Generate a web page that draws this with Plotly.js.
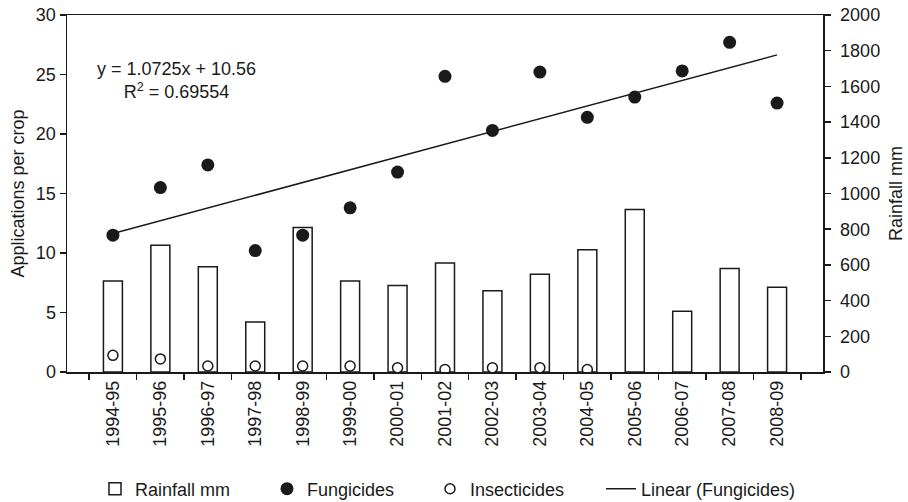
<!DOCTYPE html>
<html>
<head>
<meta charset="utf-8">
<script src="https://cdn.plot.ly/plotly-3.0.1.min.js"></script>
<style>html,body{margin:0;padding:0;background:#fff;}#chart{width:908px;height:502px;}</style>
</head>
<body>
<div id="chart"></div>
<script>
const seasons = ["1994-95","1995-96","1996-97","1997-98","1998-99","1999-00","2000-01","2001-02","2002-03","2003-04","2004-05","2005-06","2006-07","2007-08","2008-09"];
const rainfallMm = [510, 710, 590, 280, 810, 510, 485, 610, 455, 548, 685, 910, 340, 580, 475];
const fungicides = [11.5, 15.5, 17.4, 10.2, 11.5, 13.8, 16.8, 24.85, 20.3, 25.2, 21.4, 23.1, 25.3, 27.7, 22.6];
const insecticides = [1.4, 1.1, 0.5, 0.5, 0.5, 0.5, 0.35, 0.2, 0.35, 0.35, 0.2, null, null, null, null];
const trendSlope = 1.0725;
const trendIntercept = 10.56;
const trendR2 = "0.69554";

const trendX = [seasons[0], seasons[seasons.length - 1]];
const trendY = [trendSlope * 1 + trendIntercept, trendSlope * seasons.length + trendIntercept];

const FONT = "Liberation Sans, Arial, Helvetica, sans-serif";
const INK = "#1a1a1a";

const traces = [
  {
    type: "bar", name: "Rainfall mm", x: seasons, y: rainfallMm, yaxis: "y", legend: "legend",
    width: 0.4, marker: {color: "#ffffff", line: {color: INK, width: 1.5}}
  },
  {
    type: "scatter", mode: "markers", name: "Fungicides", x: seasons, y: fungicides, yaxis: "y2", legend: "legend2",
    marker: {size: 13, color: INK}
  },
  {
    type: "scatter", mode: "markers", name: "Insecticides", x: seasons, y: insecticides, yaxis: "y2", legend: "legend3",
    marker: {size: 10, color: "#ffffff", line: {color: INK, width: 1.5}}
  },
  {
    type: "scatter", mode: "lines", name: "Linear (Fungicides)", x: trendX, y: trendY, yaxis: "y2", legend: "legend4",
    line: {color: INK, width: 1.5}
  }
];

function leg(xpx) {
  return {
    orientation: "h", xref: "container", yref: "container",
    x: xpx / 908, xanchor: "left", y: 13 / 502, yanchor: "middle",
    font: {family: FONT, size: 18, color: INK},
    bgcolor: "rgba(0,0,0,0)", borderwidth: 0
  };
}

const layout = {
  width: 908, height: 502,
  margin: {l: 67, r: 85, t: 15, b: 130, pad: 0},
  paper_bgcolor: "#ffffff", plot_bgcolor: "#ffffff",
  font: {family: FONT, size: 18, color: INK},
  showlegend: true,
  legend: leg(95), legend2: leg(267), legend3: leg(430), legend4: leg(601),
  xaxis: {
    type: "category", categoryorder: "array", categoryarray: seasons,
    showline: true, linecolor: INK, linewidth: 1.5, mirror: true,
    ticks: "outside", tickson: "boundaries", ticklen: 6, tickwidth: 1.5, tickcolor: INK,
    tickangle: -90, tickfont: {family: FONT, size: 18, color: INK},
    showgrid: false, zeroline: false, automargin: false
  },
  yaxis: {
    side: "right", range: [0, 2000], dtick: 200, tick0: 0,
    showline: true, linecolor: INK, linewidth: 1.5,
    ticks: "outside", ticklen: 6, tickwidth: 1.5, tickcolor: INK, ticklabelstandoff: 6,
    tickfont: {family: FONT, size: 18, color: INK},
    showgrid: false, zeroline: false, automargin: false,
    title: {text: "Rainfall mm", font: {family: FONT, size: 18, color: INK}, standoff: 10}
  },
  yaxis2: {
    overlaying: "y", side: "left", range: [0, 30], dtick: 5, tick0: 0,
    showline: true, linecolor: INK, linewidth: 1.5,
    ticks: "outside", ticklen: 6, tickwidth: 1.5, tickcolor: INK,
    tickfont: {family: FONT, size: 18, color: INK},
    showgrid: false, zeroline: false, automargin: false,
    title: {text: "Applications per crop", font: {family: FONT, size: 18, color: INK}, standoff: 6}
  },
  annotations: [
    {xref: "paper", yref: "paper", x: 0.1453, y: 0.817, xanchor: "center", yanchor: "middle",
     text: "y = " + trendSlope + "x + " + trendIntercept + "<br>R<sup>2</sup> = " + trendR2,
     showarrow: false, align: "center",
     font: {family: FONT, size: 18, color: INK}}
  ]
};

Plotly.newPlot("chart", traces, layout, {displayModeBar: false, staticPlot: true});
</script>
</body>
</html>
